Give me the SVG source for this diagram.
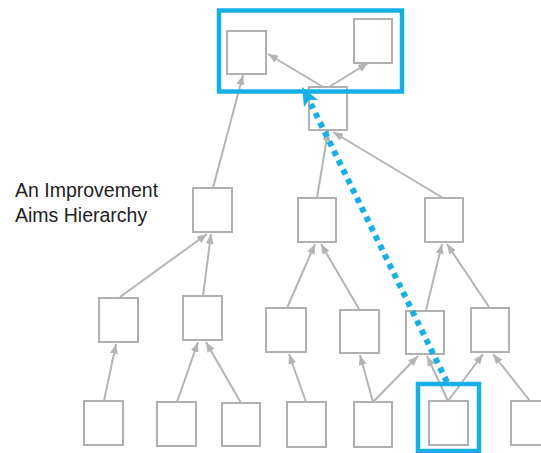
<svg xmlns="http://www.w3.org/2000/svg" width="541" height="453" viewBox="0 0 541 453">
<defs>
<marker id="ah" viewBox="0 0 10 8" refX="10" refY="4" markerWidth="10" markerHeight="8" markerUnits="userSpaceOnUse" orient="auto">
<path d="M0,0 L10,4 L0,8 z" fill="#b4b4b4"/>
</marker>
</defs>
<style>
.n{fill:#ffffff;stroke:#b0b0b0;stroke-width:2}
.c{stroke:#b4b4b4;stroke-width:2;fill:none;marker-end:url(#ah)}
.hl{fill:none;stroke:#17b0e6;stroke-width:4.5}
.t{font-family:"Liberation Sans",Arial,sans-serif;font-size:19.5px;fill:#222222}
</style>
<rect width="541" height="453" fill="#ffffff"/>
<g id="label">
<text class="t" x="15" y="197">An Improvement</text>
<text class="t" x="15" y="222">Aims Hierarchy</text>
</g>
<g id="nodes">
<g id="A"><rect class="n" x="227" y="31" width="39" height="43"/></g>
<g id="B"><rect class="n" x="354" y="19" width="38" height="44"/></g>
<g id="C"><rect class="n" x="309" y="87" width="38" height="43"/></g>
<g id="L2left"><rect class="n" x="193" y="188" width="39" height="44"/></g>
<g id="L2mid"><rect class="n" x="298" y="198" width="38" height="44"/></g>
<g id="L2right"><rect class="n" x="425" y="198" width="38" height="44"/></g>
<g id="L3L1"><rect class="n" x="99" y="298" width="39" height="44"/></g>
<g id="L3L2"><rect class="n" x="183" y="296" width="39" height="44"/></g>
<g id="L3a"><rect class="n" x="266" y="308" width="40" height="44"/></g>
<g id="L3b"><rect class="n" x="340" y="310" width="39" height="43"/></g>
<g id="L3c"><rect class="n" x="406" y="311" width="38" height="43"/></g>
<g id="L3d"><rect class="n" x="471" y="308" width="38" height="44"/></g>
<g id="B1"><rect class="n" x="84" y="401" width="39" height="44"/></g>
<g id="B2"><rect class="n" x="157" y="402" width="39" height="44"/></g>
<g id="B3"><rect class="n" x="222" y="403" width="38" height="43"/></g>
<g id="B4"><rect class="n" x="287" y="402" width="39" height="45"/></g>
<g id="B5"><rect class="n" x="354" y="402" width="38" height="45"/></g>
<g id="B6"><rect class="n" x="429" y="401" width="39" height="44"/></g>
<g id="B7"><rect class="n" x="511" y="401" width="40" height="44"/></g>
</g>
<g id="connectors">
<line class="c" x1="323" y1="87" x2="268" y2="54"/>
<line class="c" x1="329" y1="87" x2="368" y2="63"/>
<line class="c" x1="213" y1="188" x2="243" y2="75"/>
<line class="c" x1="317" y1="198" x2="328" y2="131"/>
<line class="c" x1="443" y1="198" x2="333" y2="132"/>
<line class="c" x1="120" y1="297" x2="207" y2="234"/>
<line class="c" x1="203" y1="296" x2="211" y2="234"/>
<line class="c" x1="287" y1="308" x2="315" y2="244"/>
<line class="c" x1="359" y1="309" x2="321" y2="244"/>
<line class="c" x1="426" y1="310" x2="442" y2="244"/>
<line class="c" x1="489" y1="307" x2="447" y2="244"/>
<line class="c" x1="104" y1="401" x2="116" y2="344"/>
<line class="c" x1="177" y1="402" x2="198" y2="342"/>
<line class="c" x1="241" y1="403" x2="206" y2="342"/>
<line class="c" x1="306" y1="402" x2="289" y2="354"/>
<line class="c" x1="373" y1="402" x2="360" y2="355"/>
<line class="c" x1="373" y1="402" x2="418" y2="356"/>
<line class="c" x1="448" y1="401" x2="427" y2="356"/>
<line class="c" x1="448" y1="401" x2="483" y2="354"/>
<line class="c" x1="530" y1="401" x2="493" y2="354"/>
</g>
<g id="highlights">
<rect class="hl" x="219" y="10.5" width="183" height="81"/>
<rect class="hl" x="418" y="384" width="61" height="67"/>
<line x1="447" y1="382" x2="311" y2="104" stroke="#17b0e6" stroke-width="6" stroke-dasharray="5.5 5"/>
<polygon points="302,87 318,100 309,100 304,107" fill="#17b0e6"/>
</g>
</svg>
